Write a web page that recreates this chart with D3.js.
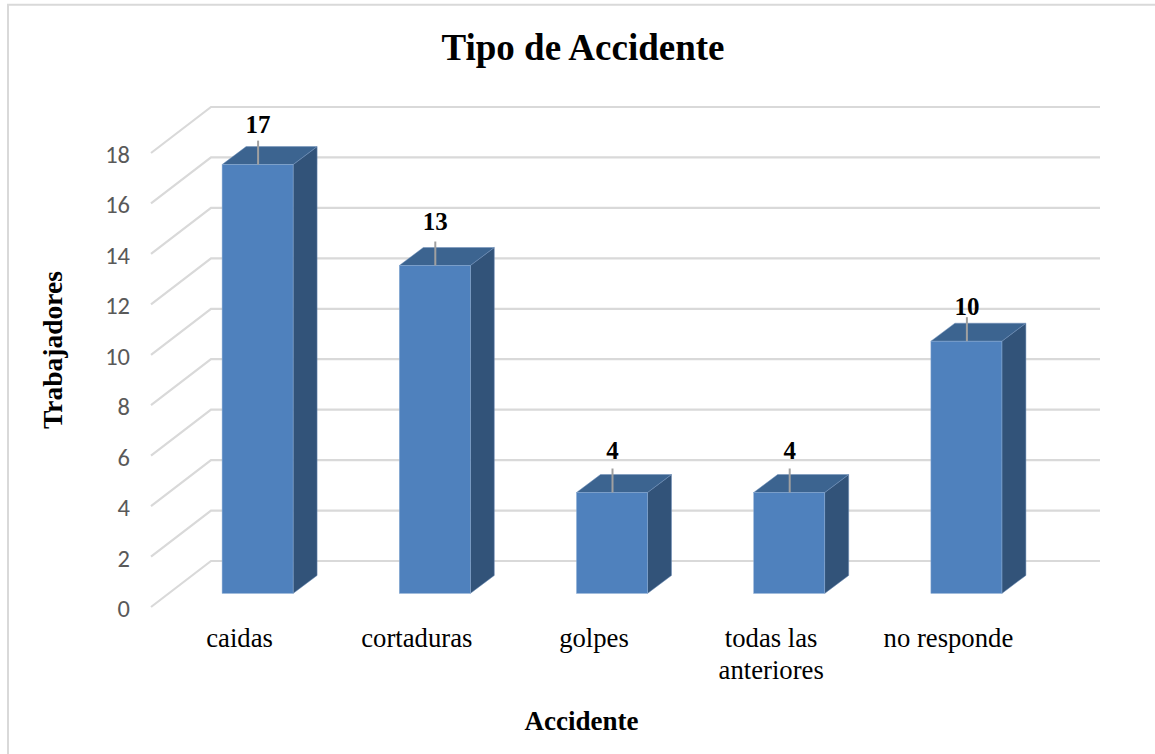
<!doctype html>
<html>

<head>
    <meta charset="utf-8">
    <title>Tipo de Accidente</title>
    <style>
        html, body { margin: 0; padding: 0; background: #fff; }
        svg { display: block; }
    </style>
</head>

<body>
    <svg width="1155" height="754"></svg>
    <script src="https://cdn.jsdelivr.net/npm/d3@7"></script>
    <script>
    var categories = ["caidas", "cortaduras", "golpes", "todas las anteriores", "no responde"];
    var trabajadores = [17, 13, 4, 4, 10];
    var yTicks = [0, 2, 4, 6, 8, 10, 12, 14, 16, 18];

    var serif = "'Liberation Serif', 'Times New Roman', serif";
    var sans = "Carlito, 'Open Sans', sans-serif";

    var svg = d3.select("svg");

    // chart frame, only the left and top edges are in the picture
    svg.append("path")
        .attr("d", "M8,754V4.7H1155")
        .attr("fill", "none")
        .attr("stroke", "#d9d9d9")
        .attr("stroke-width", 2);

    // back wall of the 3d box, the front edge sits down and to the left of it
    var wallLeft = 211, wallRight = 1100;
    var floorDx = -60, floorDy = 46;

    var yScale = d3.scaleLinear()
        .domain([0, 18])
        .range([561, 107]);

    var xScale = d3.scaleBand()
        .domain(categories)
        .range([169, 1055])
        .paddingInner(0)
        .paddingOuter(0);

    // bars stand in the middle of the floor
    var barDy = 32.4;
    var barWidth = 71;
    var depthX = 24, depthY = -18;

    var grid = svg.append("g");
    yTicks.forEach(function(t) {
        var y = yScale(t);
        grid.append("polyline")
            .attr("points", [[wallLeft + floorDx, y + floorDy], [wallLeft, y], [wallRight, y]].join(" "))
            .attr("fill", "none")
            .attr("stroke", "#d9d9d9")
            .attr("stroke-width", 2.2);
    });

    // y axis labels
    svg.append("g").selectAll("text")
        .data(yTicks)
        .join("text")
        .attr("x", 130)
        .attr("y", function(d) { return yScale(d) + floorDy + 10; })
        .attr("text-anchor", "end")
        .attr("fill", "#595959")
        .attr("font-family", sans)
        .attr("font-size", 24.5)
        .text(function(d) { return d; });

    var bars = svg.append("g").selectAll("g")
        .data(categories)
        .join("g");

    function barLeft(c) {
        return xScale(c) + xScale.bandwidth() / 2 - barWidth / 2;
    }

    // side face
    bars.append("path")
        .attr("d", function(c, i) {
            var x = barLeft(c) + barWidth;
            var top = yScale(trabajadores[i]) + barDy;
            var bottom = yScale(0) + barDy;
            return "M" + x + "," + top + "l" + depthX + "," + depthY + "L" + (x + depthX) + "," + (bottom + depthY) + "L" + x + "," + bottom + "Z";
        })
        .attr("fill", "#325379")
        .attr("stroke", "#6f8fb8")
        .attr("stroke-width", 0.5);

    // top face
    bars.append("path")
        .attr("d", function(c, i) {
            var x = barLeft(c);
            var top = yScale(trabajadores[i]) + barDy;
            return "M" + x + "," + top + "l" + depthX + "," + depthY + "h" + barWidth + "l" + (-depthX) + "," + (-depthY) + "Z";
        })
        .attr("fill", "#3c6490")
        .attr("stroke", "#6f8fb8")
        .attr("stroke-width", 0.5);

    // front face
    bars.append("rect")
        .attr("x", barLeft)
        .attr("y", function(c, i) { return yScale(trabajadores[i]) + barDy; })
        .attr("width", barWidth)
        .attr("height", function(c, i) { return yScale(0) - yScale(trabajadores[i]); })
        .attr("fill", "#4f81bd")
        .attr("stroke", "#8aabd3")
        .attr("stroke-width", 0.5);

    // leader lines
    bars.append("line")
        .attr("x1", function(c) { return xScale(c) + xScale.bandwidth() / 2 + 0.5; })
        .attr("x2", function(c) { return xScale(c) + xScale.bandwidth() / 2 + 0.5; })
        .attr("y1", function(c, i) { return yScale(trabajadores[i]) + barDy; })
        .attr("y2", function(c, i) { return yScale(trabajadores[i]) + barDy - 24; })
        .attr("stroke", "#a0a0a0")
        .attr("stroke-width", 2);

    // data labels were moved by hand in the original, so each has its own gap
    var labelGap = [32, 36, 34, 34, 26];
    bars.append("text")
        .attr("x", function(c) { return xScale(c) + xScale.bandwidth() / 2 + 0.5; })
        .attr("y", function(c, i) { return yScale(trabajadores[i]) + barDy - labelGap[i]; })
        .attr("text-anchor", "middle")
        .attr("font-family", serif)
        .attr("font-weight", "bold")
        .attr("font-size", 25)
        .attr("fill", "#000")
        .text(function(c, i) { return trabajadores[i]; });

    // category labels, shifted a bit to the left of the bars
    var catLabels = svg.append("g").selectAll("text")
        .data(categories)
        .join("text")
        .attr("text-anchor", "middle")
        .attr("font-family", serif)
        .attr("font-size", 26.7)
        .attr("fill", "#000");

    catLabels.each(function(c) {
        var cx = xScale(c) + xScale.bandwidth() / 2 - 18;
        var parts = c === "todas las anteriores" ? ["todas las", "anteriores"] : [c];
        d3.select(this).selectAll("tspan")
            .data(parts)
            .join("tspan")
            .attr("x", cx)
            .attr("y", function(d, i) { return 647 + i * 31.5; })
            .text(function(d) { return d; });
    });

    svg.append("text")
        .attr("x", 583)
        .attr("y", 60)
        .attr("text-anchor", "middle")
        .attr("font-family", serif)
        .attr("font-weight", "bold")
        .attr("font-size", 37)
        .text("Tipo de Accidente");

    svg.append("text")
        .attr("x", 581.5)
        .attr("y", 730)
        .attr("text-anchor", "middle")
        .attr("font-family", serif)
        .attr("font-weight", "bold")
        .attr("font-size", 27)
        .text("Accidente");

    svg.append("text")
        .attr("transform", "translate(62,350) rotate(-90)")
        .attr("text-anchor", "middle")
        .attr("font-family", serif)
        .attr("font-weight", "bold")
        .attr("font-size", 27.5)
        .text("Trabajadores");
    </script>
</body>

</html>
